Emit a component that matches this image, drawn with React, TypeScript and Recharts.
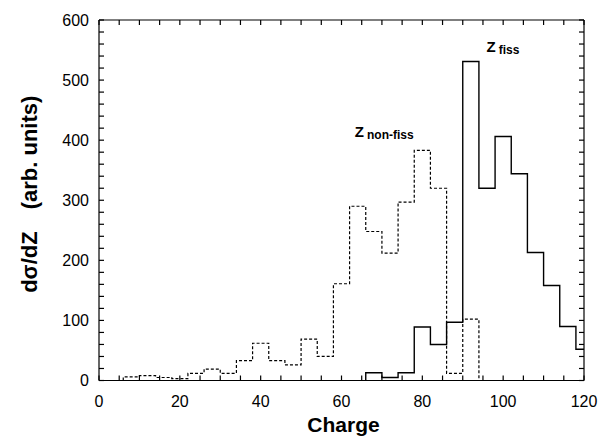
import React from 'react';
import { Line, LineChart, ReferenceDot, XAxis, YAxis } from 'recharts';

// bin left edges (Z) and heights, bins are 4 charge units wide
const nonFissEdges = [6, 10, 14, 18, 22, 26, 30, 34, 38, 42, 46, 50, 54, 58, 62, 66, 70, 74, 78, 82, 86, 90];
const nonFissValues = [6, 8, 5, 3, 12, 19, 12, 33, 62, 33, 26, 69, 40, 161, 290, 248, 212, 297, 383, 320, 12, 102];
const nonFissEnd = 94;

const fissEdges = [66, 70, 74, 78, 82, 86, 90, 94, 98, 102, 106, 110, 114, 118];
const fissValues = [13, 5, 13, 89, 60, 97, 531, 320, 406, 344, 213, 158, 90, 52];
const fissEnd = 120;

const xLabels = [0, 20, 40, 60, 80, 100, 120];
const yLabels = [0, 100, 200, 300, 400, 500, 600];
const xMinor = Array.from({ length: 25 }, (_, i) => i * 5);
const yMinor = Array.from({ length: 31 }, (_, i) => i * 20);

const FONT = 'Liberation Sans, Arial, Helvetica, sans-serif';

function toSteps(edges: number[], values: number[], end: number, drop: boolean) {
  const pts = [{ x: edges[0], y: 0 }];
  edges.forEach((e, i) => pts.push({ x: e, y: values[i] }));
  pts.push({ x: end, y: drop ? 0 : values[values.length - 1] });
  return pts;
}

const nonFissData = toSteps(nonFissEdges, nonFissValues, nonFissEnd, true);
const fissData = toSteps(fissEdges, fissValues, fissEnd, false);

// ticks point inward on all four sides of the frame
const BottomTick = ({ x, y, payload }: any) => {
  const v = payload.value;
  return (
    <g>
      <line x1={x} x2={x} y1={y} y2={y - 5} stroke="#000" strokeWidth={1.2} />
      {xLabels.includes(v) && (
        <text x={x} y={y + 26} textAnchor="middle" fontSize={16} fontFamily={FONT} fill="#000">
          {v}
        </text>
      )}
    </g>
  );
};

const TopTick = ({ x, y }: any) => <line x1={x} x2={x} y1={y} y2={y + 5} stroke="#000" strokeWidth={1.2} />;

const LeftTick = ({ x, y, payload }: any) => {
  const v = payload.value;
  return (
    <g>
      <line x1={x} x2={x + 5} y1={y} y2={y} stroke="#000" strokeWidth={1.2} />
      {yLabels.includes(v) && (
        <text x={x - 10} y={y} dy="0.35em" textAnchor="end" fontSize={16} fontFamily={FONT} fill="#000">
          {v}
        </text>
      )}
    </g>
  );
};

const RightTick = ({ x, y }: any) => <line x1={x} x2={x - 5} y1={y} y2={y} stroke="#000" strokeWidth={1.2} />;

const YTitle = ({ viewBox }: any) => {
  const cx = viewBox.x + 18;
  const cy = viewBox.y + viewBox.height / 2 - 6;
  return (
    <text
      x={cx}
      y={cy}
      transform={`rotate(-90, ${cx}, ${cy})`}
      textAnchor="middle"
      fontSize={22}
      fontWeight="bold"
      fontFamily={FONT}
      fill="#000"
    >
      <tspan>dσ/dZ</tspan>
      <tspan dx={22}>(arb. units)</tspan>
    </text>
  );
};

const XTitle = ({ viewBox }: any) => (
  <text
    x={viewBox.x + viewBox.width / 2 + 2}
    y={viewBox.y + 51}
    textAnchor="middle"
    fontSize={21}
    fontWeight="bold"
    fontFamily={FONT}
    fill="#000"
  >
    Charge
  </text>
);

const Annotation = ({ viewBox, sub }: any) => (
  <text x={viewBox.x} y={viewBox.y} fontFamily={FONT} fontWeight="bold" fill="#000">
    <tspan fontSize={15}>Z</tspan>
    <tspan fontSize={12} dx={3} dy={2}>
      {sub}
    </tspan>
  </text>
);

export default function App() {
  return (
    <LineChart width={600} height={429} margin={{ top: 11, right: 23, bottom: 6.5, left: 11 }}>
      <XAxis
        xAxisId="x"
        dataKey="x"
        type="number"
        domain={[0, 120]}
        ticks={xMinor}
        interval={0}
        tickSize={0}
        tickMargin={0}
        tickLine={false}
        axisLine={{ stroke: '#000', strokeWidth: 1.2 }}
        tick={(p: any) => <BottomTick {...p} />}
        height={50}
        label={<XTitle />}
      />
      <XAxis
        xAxisId="top"
        orientation="top"
        dataKey="x"
        type="number"
        domain={[0, 120]}
        allowDataOverflow
        ticks={xMinor}
        interval={0}
        tickSize={0}
        tickMargin={0}
        tickLine={false}
        axisLine={{ stroke: '#000', strokeWidth: 1.2 }}
        tick={(p: any) => <TopTick {...p} />}
        height={1}
      />
      <YAxis
        yAxisId="y"
        type="number"
        domain={[0, 600]}
        ticks={yMinor}
        interval={0}
        tickSize={0}
        tickMargin={0}
        tickLine={false}
        axisLine={{ stroke: '#000', strokeWidth: 1.2 }}
        tick={(p: any) => <LeftTick {...p} />}
        width={80}
        label={<YTitle />}
      />
      <YAxis
        yAxisId="r"
        orientation="right"
        type="number"
        domain={[0, 600]}
        allowDataOverflow
        ticks={yMinor}
        interval={0}
        tickSize={0}
        tickMargin={0}
        tickLine={false}
        axisLine={{ stroke: '#000', strokeWidth: 1.2 }}
        tick={(p: any) => <RightTick {...p} />}
        width={1}
      />
      {/* invisible copy so the mirrored top/right axes get drawn */}
      <Line
        xAxisId="top"
        yAxisId="r"
        data={fissData}
        dataKey="y"
        type="stepAfter"
        stroke="none"
        dot={false}
        legendType="none"
        isAnimationActive={false}
      />
      <Line
        xAxisId="x"
        yAxisId="y"
        data={nonFissData}
        dataKey="y"
        type="stepAfter"
        stroke="#000"
        strokeWidth={1.2}
        strokeDasharray="3 2"
        dot={false}
        isAnimationActive={false}
      />
      <Line
        xAxisId="x"
        yAxisId="y"
        data={fissData}
        dataKey="y"
        type="stepAfter"
        stroke="#000"
        strokeWidth={1.4}
        dot={false}
        isAnimationActive={false}
      />
      <ReferenceDot xAxisId="x" yAxisId="y" x={63.3} y={406} r={0} label={<Annotation sub="non-fiss" />} />
      <ReferenceDot xAxisId="x" yAxisId="y" x={95.9} y={546} r={0} label={<Annotation sub="fiss" />} />
    </LineChart>
  );
}
